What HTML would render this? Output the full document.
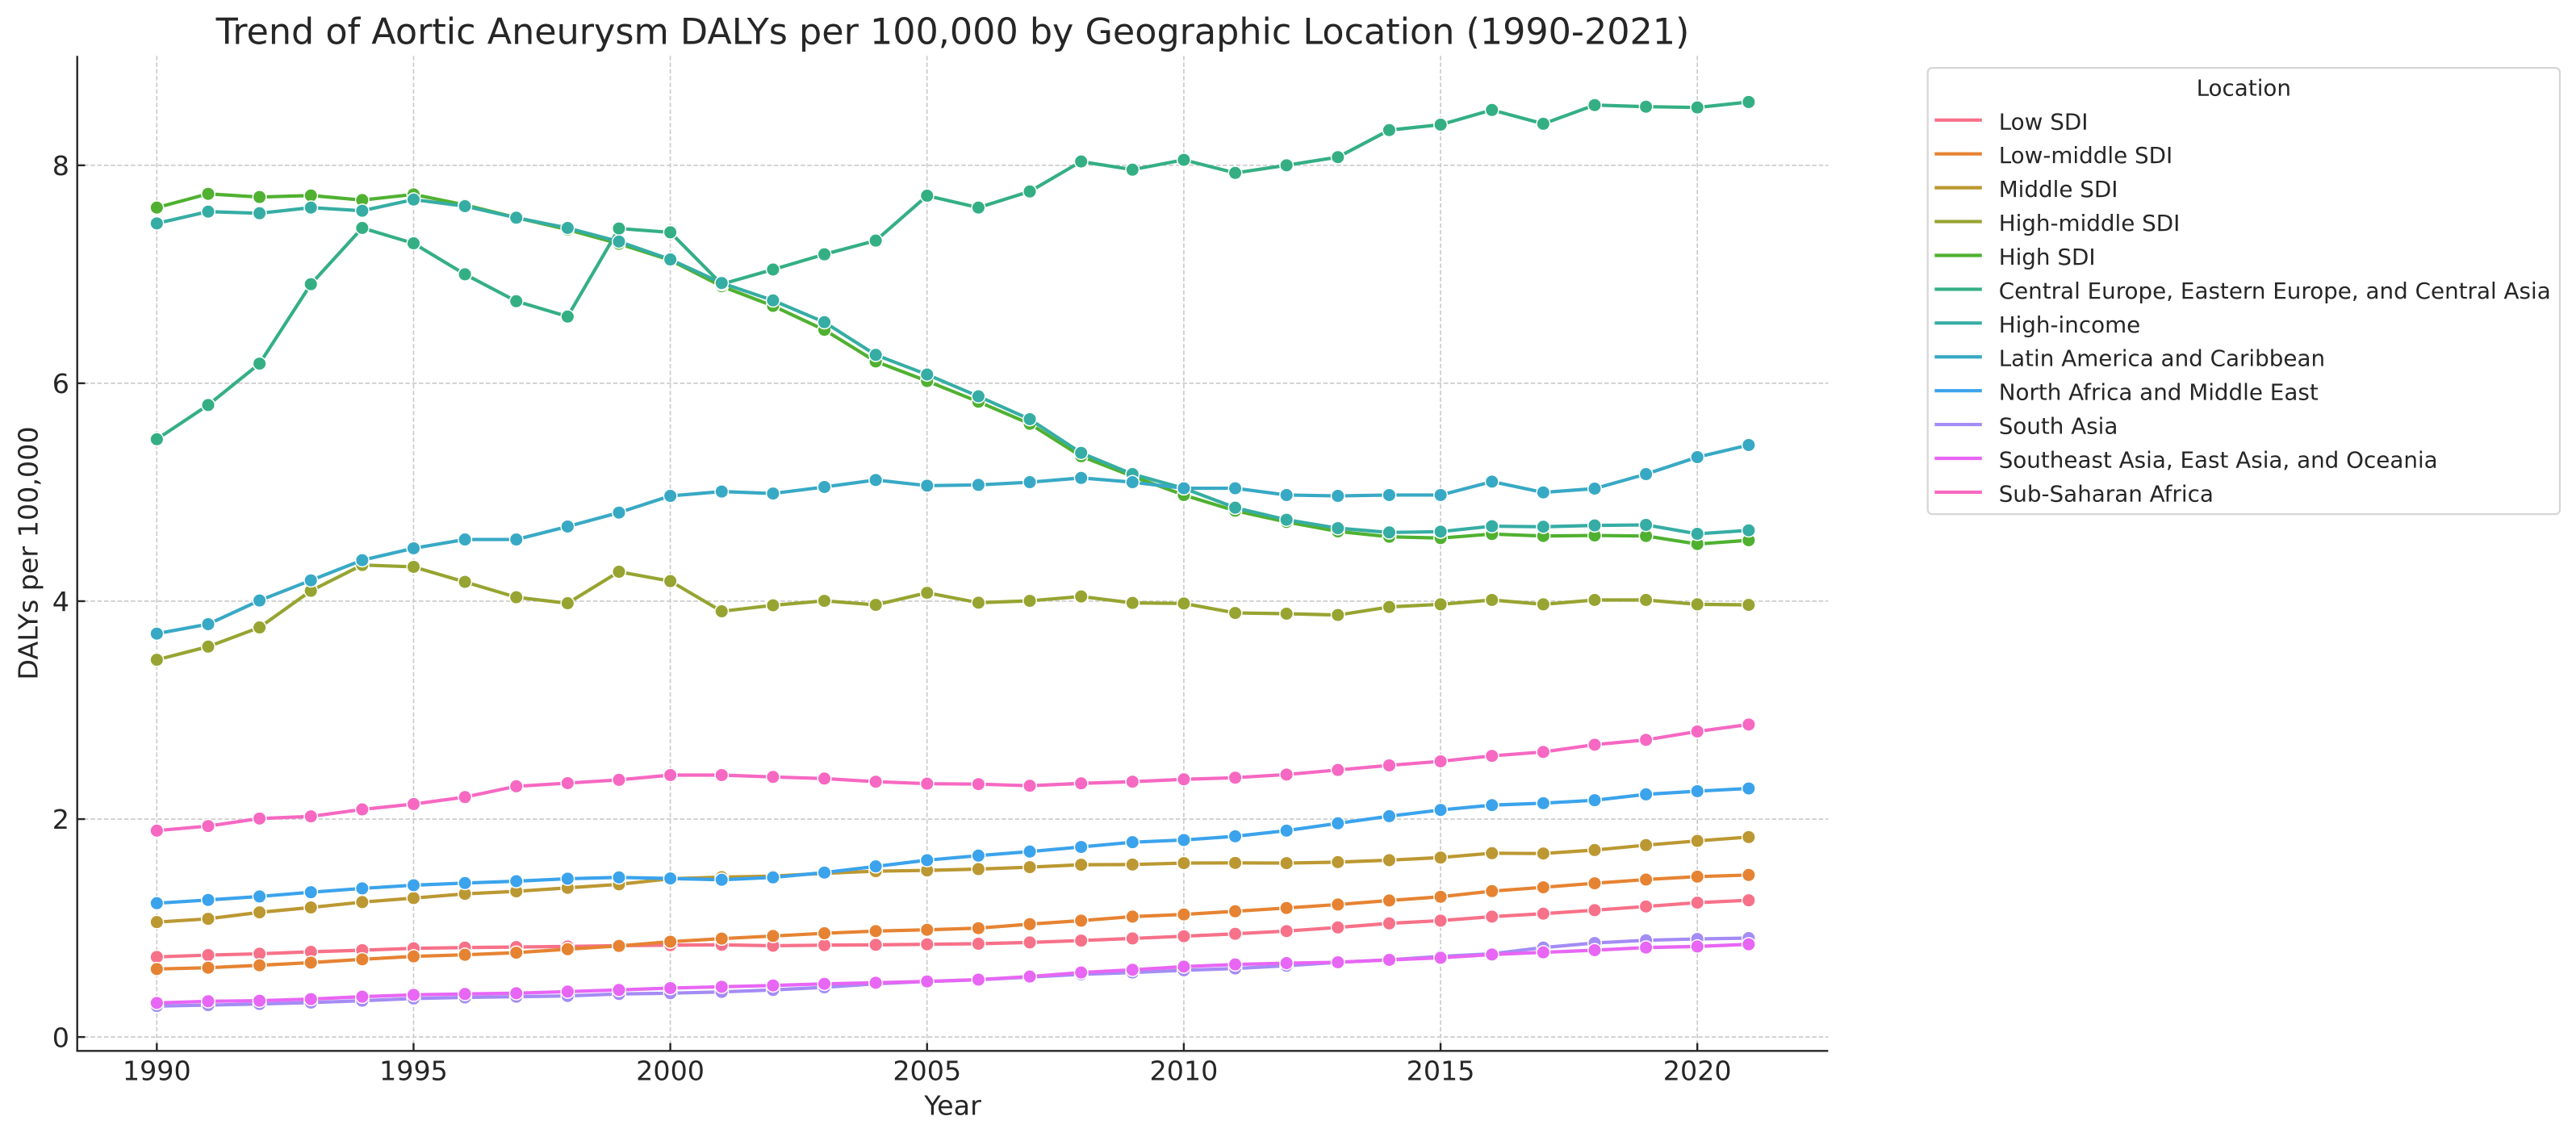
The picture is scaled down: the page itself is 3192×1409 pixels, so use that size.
<!DOCTYPE html>
<html>
<head>
<meta charset="utf-8">
<style>
html,body{margin:0;padding:0;background:#fff;}
svg{display:block;}
text{font-family:"DejaVu Sans","Liberation Sans",sans-serif;fill:#262626;}
.ln{fill:none;stroke-width:4.17;stroke-linejoin:round;stroke-linecap:round;}
.mw{fill:none;stroke:#fff;stroke-width:18;stroke-linecap:round;}
.mc{fill:none;stroke-width:15;stroke-linecap:round;}
.grid line{stroke:#c9c9c9;stroke-width:1.6;stroke-dasharray:5.5 2.8;}
.tk{font-size:33.33px;}
.lg{font-size:27.78px;}
</style>
</head>
<body>
<svg width="3192" height="1409" viewBox="0 0 3192 1409" xmlns="http://www.w3.org/2000/svg">
<rect x="0" y="0" width="3192" height="1409" fill="#fff"/>

<!-- grid -->
<g class="grid">
<line x1="194.3" y1="69.2" x2="194.3" y2="1302.3"/>
<line x1="512.45" y1="69.2" x2="512.45" y2="1302.3"/>
<line x1="830.6" y1="69.2" x2="830.6" y2="1302.3"/>
<line x1="1148.75" y1="69.2" x2="1148.75" y2="1302.3"/>
<line x1="1466.9" y1="69.2" x2="1466.9" y2="1302.3"/>
<line x1="1785.05" y1="69.2" x2="1785.05" y2="1302.3"/>
<line x1="2103.2" y1="69.2" x2="2103.2" y2="1302.3"/>
<line x1="95.7" y1="1285.1" x2="2265.4" y2="1285.1"/>
<line x1="95.7" y1="1015.04" x2="2265.4" y2="1015.04"/>
<line x1="95.7" y1="744.98" x2="2265.4" y2="744.98"/>
<line x1="95.7" y1="474.92" x2="2265.4" y2="474.92"/>
<line x1="95.7" y1="204.86" x2="2265.4" y2="204.86"/>
</g>

<!-- data -->
<g transform="translate(194.3,1285.1) scale(63.63,-135.03)">
<!-- Low SDI -->
<g stroke="#f77189">
<polyline class="ln" vector-effect="non-scaling-stroke" points="0,.735 1,.752 2,.764 3,.782 4,.797 5,.814 6,.821 7,.826 8,.831 9,.838 10,.843 11,.846 12,.838 13,.843 14,.846 15,.851 16,.856 17,.868 18,.885 19,.905 20,.925 21,.947 22,.972 23,1.006 24,1.043 25,1.068 26,1.105 27,1.132 28,1.164 29,1.198 30,1.233 31,1.255"/>
<path class="mw" vector-effect="non-scaling-stroke" d="M0,.735h.001M1,.752h.001M2,.764h.001M3,.782h.001M4,.797h.001M5,.814h.001M6,.821h.001M7,.826h.001M8,.831h.001M9,.838h.001M10,.843h.001M11,.846h.001M12,.838h.001M13,.843h.001M14,.846h.001M15,.851h.001M16,.856h.001M17,.868h.001M18,.885h.001M19,.905h.001M20,.925h.001M21,.947h.001M22,.972h.001M23,1.006h.001M24,1.043h.001M25,1.068h.001M26,1.105h.001M27,1.132h.001M28,1.164h.001M29,1.198h.001M30,1.233h.001M31,1.255h.001"/>
<path class="mc" vector-effect="non-scaling-stroke" d="M0,.735h.001M1,.752h.001M2,.764h.001M3,.782h.001M4,.797h.001M5,.814h.001M6,.821h.001M7,.826h.001M8,.831h.001M9,.838h.001M10,.843h.001M11,.846h.001M12,.838h.001M13,.843h.001M14,.846h.001M15,.851h.001M16,.856h.001M17,.868h.001M18,.885h.001M19,.905h.001M20,.925h.001M21,.947h.001M22,.972h.001M23,1.006h.001M24,1.043h.001M25,1.068h.001M26,1.105h.001M27,1.132h.001M28,1.164h.001M29,1.198h.001M30,1.233h.001M31,1.255h.001"/>
</g>
<!-- Low-middle SDI -->
<g stroke="#e68332">
<polyline class="ln" vector-effect="non-scaling-stroke" points="0,.624 1,.636 2,.658 3,.683 4,.713 5,.74 6,.755 7,.774 8,.806 9,.836 10,.875 11,.903 12,.927 13,.952 14,.972 15,.984 16,.999 17,1.036 18,1.068 19,1.105 20,1.125 21,1.154 22,1.184 23,1.216 24,1.253 25,1.287 26,1.339 27,1.374 28,1.411 29,1.445 30,1.472 31,1.487"/>
<path class="mw" vector-effect="non-scaling-stroke" d="M0,.624h.001M1,.636h.001M2,.658h.001M3,.683h.001M4,.713h.001M5,.74h.001M6,.755h.001M7,.774h.001M8,.806h.001M9,.836h.001M10,.875h.001M11,.903h.001M12,.927h.001M13,.952h.001M14,.972h.001M15,.984h.001M16,.999h.001M17,1.036h.001M18,1.068h.001M19,1.105h.001M20,1.125h.001M21,1.154h.001M22,1.184h.001M23,1.216h.001M24,1.253h.001M25,1.287h.001M26,1.339h.001M27,1.374h.001M28,1.411h.001M29,1.445h.001M30,1.472h.001M31,1.487h.001"/>
<path class="mc" vector-effect="non-scaling-stroke" d="M0,.624h.001M1,.636h.001M2,.658h.001M3,.683h.001M4,.713h.001M5,.74h.001M6,.755h.001M7,.774h.001M8,.806h.001M9,.836h.001M10,.875h.001M11,.903h.001M12,.927h.001M13,.952h.001M14,.972h.001M15,.984h.001M16,.999h.001M17,1.036h.001M18,1.068h.001M19,1.105h.001M20,1.125h.001M21,1.154h.001M22,1.184h.001M23,1.216h.001M24,1.253h.001M25,1.287h.001M26,1.339h.001M27,1.374h.001M28,1.411h.001M29,1.445h.001M30,1.472h.001M31,1.487h.001"/>
</g>
<!-- Middle SDI -->
<g stroke="#bb9832">
<polyline class="ln" vector-effect="non-scaling-stroke" points="0,1.055 1,1.085 2,1.144 3,1.189 4,1.238 5,1.275 6,1.314 7,1.337 8,1.369 9,1.401 10,1.453 11,1.467 12,1.477 13,1.502 14,1.522 15,1.529 16,1.541 17,1.559 18,1.581 19,1.583 20,1.596 21,1.598 22,1.596 23,1.605 24,1.623 25,1.647 26,1.687 27,1.684 28,1.716 29,1.761 30,1.8 31,1.835"/>
<path class="mw" vector-effect="non-scaling-stroke" d="M0,1.055h.001M1,1.085h.001M2,1.144h.001M3,1.189h.001M4,1.238h.001M5,1.275h.001M6,1.314h.001M7,1.337h.001M8,1.369h.001M9,1.401h.001M10,1.453h.001M11,1.467h.001M12,1.477h.001M13,1.502h.001M14,1.522h.001M15,1.529h.001M16,1.541h.001M17,1.559h.001M18,1.581h.001M19,1.583h.001M20,1.596h.001M21,1.598h.001M22,1.596h.001M23,1.605h.001M24,1.623h.001M25,1.647h.001M26,1.687h.001M27,1.684h.001M28,1.716h.001M29,1.761h.001M30,1.8h.001M31,1.835h.001"/>
<path class="mc" vector-effect="non-scaling-stroke" d="M0,1.055h.001M1,1.085h.001M2,1.144h.001M3,1.189h.001M4,1.238h.001M5,1.275h.001M6,1.314h.001M7,1.337h.001M8,1.369h.001M9,1.401h.001M10,1.453h.001M11,1.467h.001M12,1.477h.001M13,1.502h.001M14,1.522h.001M15,1.529h.001M16,1.541h.001M17,1.559h.001M18,1.581h.001M19,1.583h.001M20,1.596h.001M21,1.598h.001M22,1.596h.001M23,1.605h.001M24,1.623h.001M25,1.647h.001M26,1.687h.001M27,1.684h.001M28,1.716h.001M29,1.761h.001M30,1.8h.001M31,1.835h.001"/>
</g>
<!-- High-middle SDI -->
<g stroke="#97a431">
<polyline class="ln" vector-effect="non-scaling-stroke" points="0,3.462 1,3.583 2,3.759 3,4.095 4,4.332 5,4.315 6,4.177 7,4.036 8,3.981 9,4.27 10,4.184 11,3.907 12,3.962 13,4.003 14,3.966 15,4.077 16,3.986 17,4.003 18,4.043 19,3.984 20,3.979 21,3.892 22,3.885 23,3.873 24,3.947 25,3.971 26,4.011 27,3.971 28,4.011 29,4.011 30,3.971 31,3.966"/>
<path class="mw" vector-effect="non-scaling-stroke" d="M0,3.462h.001M1,3.583h.001M2,3.759h.001M3,4.095h.001M4,4.332h.001M5,4.315h.001M6,4.177h.001M7,4.036h.001M8,3.981h.001M9,4.27h.001M10,4.184h.001M11,3.907h.001M12,3.962h.001M13,4.003h.001M14,3.966h.001M15,4.077h.001M16,3.986h.001M17,4.003h.001M18,4.043h.001M19,3.984h.001M20,3.979h.001M21,3.892h.001M22,3.885h.001M23,3.873h.001M24,3.947h.001M25,3.971h.001M26,4.011h.001M27,3.971h.001M28,4.011h.001M29,4.011h.001M30,3.971h.001M31,3.966h.001"/>
<path class="mc" vector-effect="non-scaling-stroke" d="M0,3.462h.001M1,3.583h.001M2,3.759h.001M3,4.095h.001M4,4.332h.001M5,4.315h.001M6,4.177h.001M7,4.036h.001M8,3.981h.001M9,4.27h.001M10,4.184h.001M11,3.907h.001M12,3.962h.001M13,4.003h.001M14,3.966h.001M15,4.077h.001M16,3.986h.001M17,4.003h.001M18,4.043h.001M19,3.984h.001M20,3.979h.001M21,3.892h.001M22,3.885h.001M23,3.873h.001M24,3.947h.001M25,3.971h.001M26,4.011h.001M27,3.971h.001M28,4.011h.001M29,4.011h.001M30,3.971h.001M31,3.966h.001"/>
</g>
<!-- High SDI -->
<g stroke="#50b131">
<polyline class="ln" vector-effect="non-scaling-stroke" points="0,7.612 1,7.738 2,7.709 3,7.723 4,7.681 5,7.733 6,7.637 7,7.52 8,7.41 9,7.28 10,7.13 11,6.89 12,6.71 13,6.49 14,6.2 15,6.02 16,5.83 17,5.628 18,5.33 19,5.146 20,4.974 21,4.83 22,4.727 23,4.64 24,4.591 25,4.579 26,4.616 27,4.598 28,4.603 29,4.598 30,4.524 31,4.559"/>
<path class="mw" vector-effect="non-scaling-stroke" d="M0,7.612h.001M1,7.738h.001M2,7.709h.001M3,7.723h.001M4,7.681h.001M5,7.733h.001M6,7.637h.001M7,7.52h.001M8,7.41h.001M9,7.28h.001M10,7.13h.001M11,6.89h.001M12,6.71h.001M13,6.49h.001M14,6.2h.001M15,6.02h.001M16,5.83h.001M17,5.628h.001M18,5.33h.001M19,5.146h.001M20,4.974h.001M21,4.83h.001M22,4.727h.001M23,4.64h.001M24,4.591h.001M25,4.579h.001M26,4.616h.001M27,4.598h.001M28,4.603h.001M29,4.598h.001M30,4.524h.001M31,4.559h.001"/>
<path class="mc" vector-effect="non-scaling-stroke" d="M0,7.612h.001M1,7.738h.001M2,7.709h.001M3,7.723h.001M4,7.681h.001M5,7.733h.001M6,7.637h.001M7,7.52h.001M8,7.41h.001M9,7.28h.001M10,7.13h.001M11,6.89h.001M12,6.71h.001M13,6.49h.001M14,6.2h.001M15,6.02h.001M16,5.83h.001M17,5.628h.001M18,5.33h.001M19,5.146h.001M20,4.974h.001M21,4.83h.001M22,4.727h.001M23,4.64h.001M24,4.591h.001M25,4.579h.001M26,4.616h.001M27,4.598h.001M28,4.603h.001M29,4.598h.001M30,4.524h.001M31,4.559h.001"/>
</g>
<!-- Central Europe, Eastern Europe, and Central Asia -->
<g stroke="#34af84">
<polyline class="ln" vector-effect="non-scaling-stroke" points="0,5.486 1,5.8 2,6.18 3,6.909 4,7.425 5,7.284 6,7.0 7,6.753 8,6.612 9,7.42 10,7.385 11,6.909 12,7.044 13,7.183 14,7.309 15,7.721 16,7.612 17,7.76 18,8.035 19,7.96 20,8.05 21,7.93 22,8.0 23,8.075 24,8.323 25,8.373 26,8.508 27,8.381 28,8.553 29,8.538 30,8.531 31,8.581"/>
<path class="mw" vector-effect="non-scaling-stroke" d="M0,5.486h.001M1,5.8h.001M2,6.18h.001M3,6.909h.001M4,7.425h.001M5,7.284h.001M6,7.0h.001M7,6.753h.001M8,6.612h.001M9,7.42h.001M10,7.385h.001M11,6.909h.001M12,7.044h.001M13,7.183h.001M14,7.309h.001M15,7.721h.001M16,7.612h.001M17,7.76h.001M18,8.035h.001M19,7.96h.001M20,8.05h.001M21,7.93h.001M22,8.0h.001M23,8.075h.001M24,8.323h.001M25,8.373h.001M26,8.508h.001M27,8.381h.001M28,8.553h.001M29,8.538h.001M30,8.531h.001M31,8.581h.001"/>
<path class="mc" vector-effect="non-scaling-stroke" d="M0,5.486h.001M1,5.8h.001M2,6.18h.001M3,6.909h.001M4,7.425h.001M5,7.284h.001M6,7.0h.001M7,6.753h.001M8,6.612h.001M9,7.42h.001M10,7.385h.001M11,6.909h.001M12,7.044h.001M13,7.183h.001M14,7.309h.001M15,7.721h.001M16,7.612h.001M17,7.76h.001M18,8.035h.001M19,7.96h.001M20,8.05h.001M21,7.93h.001M22,8.0h.001M23,8.075h.001M24,8.323h.001M25,8.373h.001M26,8.508h.001M27,8.381h.001M28,8.553h.001M29,8.538h.001M30,8.531h.001M31,8.581h.001"/>
</g>
<!-- High-income -->
<g stroke="#36ada4">
<polyline class="ln" vector-effect="non-scaling-stroke" points="0,7.467 1,7.575 2,7.56 3,7.612 4,7.583 5,7.686 6,7.625 7,7.519 8,7.425 9,7.3 10,7.136 11,6.92 12,6.76 13,6.56 14,6.26 15,6.08 16,5.88 17,5.67 18,5.361 19,5.166 20,5.036 21,4.858 22,4.747 23,4.67 24,4.631 25,4.638 26,4.688 27,4.683 28,4.695 29,4.7 30,4.618 31,4.65"/>
<path class="mw" vector-effect="non-scaling-stroke" d="M0,7.467h.001M1,7.575h.001M2,7.56h.001M3,7.612h.001M4,7.583h.001M5,7.686h.001M6,7.625h.001M7,7.519h.001M8,7.425h.001M9,7.3h.001M10,7.136h.001M11,6.92h.001M12,6.76h.001M13,6.56h.001M14,6.26h.001M15,6.08h.001M16,5.88h.001M17,5.67h.001M18,5.361h.001M19,5.166h.001M20,5.036h.001M21,4.858h.001M22,4.747h.001M23,4.67h.001M24,4.631h.001M25,4.638h.001M26,4.688h.001M27,4.683h.001M28,4.695h.001M29,4.7h.001M30,4.618h.001M31,4.65h.001"/>
<path class="mc" vector-effect="non-scaling-stroke" d="M0,7.467h.001M1,7.575h.001M2,7.56h.001M3,7.612h.001M4,7.583h.001M5,7.686h.001M6,7.625h.001M7,7.519h.001M8,7.425h.001M9,7.3h.001M10,7.136h.001M11,6.92h.001M12,6.76h.001M13,6.56h.001M14,6.26h.001M15,6.08h.001M16,5.88h.001M17,5.67h.001M18,5.361h.001M19,5.166h.001M20,5.036h.001M21,4.858h.001M22,4.747h.001M23,4.67h.001M24,4.631h.001M25,4.638h.001M26,4.688h.001M27,4.683h.001M28,4.695h.001M29,4.7h.001M30,4.618h.001M31,4.65h.001"/>
</g>
<!-- Latin America and Caribbean -->
<g stroke="#38a9c5">
<polyline class="ln" vector-effect="non-scaling-stroke" points="0,3.702 1,3.789 2,4.006 3,4.191 4,4.376 5,4.485 6,4.566 7,4.566 8,4.685 9,4.813 10,4.966 11,5.006 12,4.988 13,5.048 14,5.112 15,5.06 16,5.067 17,5.092 18,5.131 19,5.092 20,5.036 21,5.036 22,4.974 23,4.966 24,4.974 25,4.974 26,5.097 27,4.998 28,5.033 29,5.166 30,5.322 31,5.433"/>
<path class="mw" vector-effect="non-scaling-stroke" d="M0,3.702h.001M1,3.789h.001M2,4.006h.001M3,4.191h.001M4,4.376h.001M5,4.485h.001M6,4.566h.001M7,4.566h.001M8,4.685h.001M9,4.813h.001M10,4.966h.001M11,5.006h.001M12,4.988h.001M13,5.048h.001M14,5.112h.001M15,5.06h.001M16,5.067h.001M17,5.092h.001M18,5.131h.001M19,5.092h.001M20,5.036h.001M21,5.036h.001M22,4.974h.001M23,4.966h.001M24,4.974h.001M25,4.974h.001M26,5.097h.001M27,4.998h.001M28,5.033h.001M29,5.166h.001M30,5.322h.001M31,5.433h.001"/>
<path class="mc" vector-effect="non-scaling-stroke" d="M0,3.702h.001M1,3.789h.001M2,4.006h.001M3,4.191h.001M4,4.376h.001M5,4.485h.001M6,4.566h.001M7,4.566h.001M8,4.685h.001M9,4.813h.001M10,4.966h.001M11,5.006h.001M12,4.988h.001M13,5.048h.001M14,5.112h.001M15,5.06h.001M16,5.067h.001M17,5.092h.001M18,5.131h.001M19,5.092h.001M20,5.036h.001M21,5.036h.001M22,4.974h.001M23,4.966h.001M24,4.974h.001M25,4.974h.001M26,5.097h.001M27,4.998h.001M28,5.033h.001M29,5.166h.001M30,5.322h.001M31,5.433h.001"/>
</g>
<!-- North Africa and Middle East -->
<g stroke="#3ba3ec">
<polyline class="ln" vector-effect="non-scaling-stroke" points="0,1.228 1,1.258 2,1.29 3,1.329 4,1.364 5,1.393 6,1.413 7,1.43 8,1.453 9,1.465 10,1.455 11,1.443 12,1.465 13,1.509 14,1.566 15,1.623 16,1.665 17,1.702 18,1.744 19,1.788 20,1.808 21,1.842 22,1.894 23,1.961 24,2.027 25,2.084 26,2.128 27,2.146 28,2.173 29,2.227 30,2.256 31,2.281"/>
<path class="mw" vector-effect="non-scaling-stroke" d="M0,1.228h.001M1,1.258h.001M2,1.29h.001M3,1.329h.001M4,1.364h.001M5,1.393h.001M6,1.413h.001M7,1.43h.001M8,1.453h.001M9,1.465h.001M10,1.455h.001M11,1.443h.001M12,1.465h.001M13,1.509h.001M14,1.566h.001M15,1.623h.001M16,1.665h.001M17,1.702h.001M18,1.744h.001M19,1.788h.001M20,1.808h.001M21,1.842h.001M22,1.894h.001M23,1.961h.001M24,2.027h.001M25,2.084h.001M26,2.128h.001M27,2.146h.001M28,2.173h.001M29,2.227h.001M30,2.256h.001M31,2.281h.001"/>
<path class="mc" vector-effect="non-scaling-stroke" d="M0,1.228h.001M1,1.258h.001M2,1.29h.001M3,1.329h.001M4,1.364h.001M5,1.393h.001M6,1.413h.001M7,1.43h.001M8,1.453h.001M9,1.465h.001M10,1.455h.001M11,1.443h.001M12,1.465h.001M13,1.509h.001M14,1.566h.001M15,1.623h.001M16,1.665h.001M17,1.702h.001M18,1.744h.001M19,1.788h.001M20,1.808h.001M21,1.842h.001M22,1.894h.001M23,1.961h.001M24,2.027h.001M25,2.084h.001M26,2.128h.001M27,2.146h.001M28,2.173h.001M29,2.227h.001M30,2.256h.001M31,2.281h.001"/>
</g>
<!-- South Asia -->
<g stroke="#a48cf4">
<polyline class="ln" vector-effect="non-scaling-stroke" points="0,.284 1,.293 2,.303 3,.316 4,.333 5,.353 6,.363 7,.37 8,.377 9,.395 10,.402 11,.414 12,.432 13,.456 14,.488 15,.51 16,.525 17,.55 18,.575 19,.592 20,.612 21,.629 22,.654 23,.686 24,.708 25,.74 26,.764 27,.821 28,.863 29,.888 30,.9 31,.908"/>
<path class="mw" vector-effect="non-scaling-stroke" d="M0,.284h.001M1,.293h.001M2,.303h.001M3,.316h.001M4,.333h.001M5,.353h.001M6,.363h.001M7,.37h.001M8,.377h.001M9,.395h.001M10,.402h.001M11,.414h.001M12,.432h.001M13,.456h.001M14,.488h.001M15,.51h.001M16,.525h.001M17,.55h.001M18,.575h.001M19,.592h.001M20,.612h.001M21,.629h.001M22,.654h.001M23,.686h.001M24,.708h.001M25,.74h.001M26,.764h.001M27,.821h.001M28,.863h.001M29,.888h.001M30,.9h.001M31,.908h.001"/>
<path class="mc" vector-effect="non-scaling-stroke" d="M0,.284h.001M1,.293h.001M2,.303h.001M3,.316h.001M4,.333h.001M5,.353h.001M6,.363h.001M7,.37h.001M8,.377h.001M9,.395h.001M10,.402h.001M11,.414h.001M12,.432h.001M13,.456h.001M14,.488h.001M15,.51h.001M16,.525h.001M17,.55h.001M18,.575h.001M19,.592h.001M20,.612h.001M21,.629h.001M22,.654h.001M23,.686h.001M24,.708h.001M25,.74h.001M26,.764h.001M27,.821h.001M28,.863h.001M29,.888h.001M30,.9h.001M31,.908h.001"/>
</g>
<!-- Southeast Asia, East Asia, and Oceania -->
<g stroke="#e866f4">
<polyline class="ln" vector-effect="non-scaling-stroke" points="0,.313 1,.328 2,.333 3,.348 4,.37 5,.387 6,.395 7,.402 8,.417 9,.432 10,.449 11,.461 12,.473 13,.488 14,.498 15,.51 16,.527 17,.555 18,.592 19,.617 20,.646 21,.666 22,.678 23,.686 24,.708 25,.727 26,.757 27,.777 28,.797 29,.821 30,.831 31,.851"/>
<path class="mw" vector-effect="non-scaling-stroke" d="M0,.313h.001M1,.328h.001M2,.333h.001M3,.348h.001M4,.37h.001M5,.387h.001M6,.395h.001M7,.402h.001M8,.417h.001M9,.432h.001M10,.449h.001M11,.461h.001M12,.473h.001M13,.488h.001M14,.498h.001M15,.51h.001M16,.527h.001M17,.555h.001M18,.592h.001M19,.617h.001M20,.646h.001M21,.666h.001M22,.678h.001M23,.686h.001M24,.708h.001M25,.727h.001M26,.757h.001M27,.777h.001M28,.797h.001M29,.821h.001M30,.831h.001M31,.851h.001"/>
<path class="mc" vector-effect="non-scaling-stroke" d="M0,.313h.001M1,.328h.001M2,.333h.001M3,.348h.001M4,.37h.001M5,.387h.001M6,.395h.001M7,.402h.001M8,.417h.001M9,.432h.001M10,.449h.001M11,.461h.001M12,.473h.001M13,.488h.001M14,.498h.001M15,.51h.001M16,.527h.001M17,.555h.001M18,.592h.001M19,.617h.001M20,.646h.001M21,.666h.001M22,.678h.001M23,.686h.001M24,.708h.001M25,.727h.001M26,.757h.001M27,.777h.001M28,.797h.001M29,.821h.001M30,.831h.001M31,.851h.001"/>
</g>
<!-- Sub-Saharan Africa -->
<g stroke="#f668c2">
<polyline class="ln" vector-effect="non-scaling-stroke" points="0,1.894 1,1.936 2,2.005 3,2.025 4,2.089 5,2.138 6,2.202 7,2.301 8,2.33 9,2.36 10,2.404 11,2.404 12,2.387 13,2.372 14,2.343 15,2.325 16,2.321 17,2.306 18,2.328 19,2.343 20,2.365 21,2.38 22,2.409 23,2.451 24,2.493 25,2.53 26,2.58 27,2.616 28,2.683 29,2.727 30,2.804 31,2.868"/>
<path class="mw" vector-effect="non-scaling-stroke" d="M0,1.894h.001M1,1.936h.001M2,2.005h.001M3,2.025h.001M4,2.089h.001M5,2.138h.001M6,2.202h.001M7,2.301h.001M8,2.33h.001M9,2.36h.001M10,2.404h.001M11,2.404h.001M12,2.387h.001M13,2.372h.001M14,2.343h.001M15,2.325h.001M16,2.321h.001M17,2.306h.001M18,2.328h.001M19,2.343h.001M20,2.365h.001M21,2.38h.001M22,2.409h.001M23,2.451h.001M24,2.493h.001M25,2.53h.001M26,2.58h.001M27,2.616h.001M28,2.683h.001M29,2.727h.001M30,2.804h.001M31,2.868h.001"/>
<path class="mc" vector-effect="non-scaling-stroke" d="M0,1.894h.001M1,1.936h.001M2,2.005h.001M3,2.025h.001M4,2.089h.001M5,2.138h.001M6,2.202h.001M7,2.301h.001M8,2.33h.001M9,2.36h.001M10,2.404h.001M11,2.404h.001M12,2.387h.001M13,2.372h.001M14,2.343h.001M15,2.325h.001M16,2.321h.001M17,2.306h.001M18,2.328h.001M19,2.343h.001M20,2.365h.001M21,2.38h.001M22,2.409h.001M23,2.451h.001M24,2.493h.001M25,2.53h.001M26,2.58h.001M27,2.616h.001M28,2.683h.001M29,2.727h.001M30,2.804h.001M31,2.868h.001"/>
</g>
</g>

<!-- spines -->
<g stroke="#262626" stroke-width="2.4" fill="none">
<line x1="95.7" y1="69.2" x2="95.7" y2="1303.5"/>
<line x1="94.5" y1="1302.3" x2="2265.4" y2="1302.3"/>
<line x1="95.7" y1="1285.1" x2="105.4" y2="1285.1"/>
<line x1="95.7" y1="1015.04" x2="105.4" y2="1015.04"/>
<line x1="95.7" y1="744.98" x2="105.4" y2="744.98"/>
<line x1="95.7" y1="474.92" x2="105.4" y2="474.92"/>
<line x1="95.7" y1="204.86" x2="105.4" y2="204.86"/>
<line x1="194.3" y1="1302.3" x2="194.3" y2="1292.6"/>
<line x1="512.45" y1="1302.3" x2="512.45" y2="1292.6"/>
<line x1="830.6" y1="1302.3" x2="830.6" y2="1292.6"/>
<line x1="1148.75" y1="1302.3" x2="1148.75" y2="1292.6"/>
<line x1="1466.9" y1="1302.3" x2="1466.9" y2="1292.6"/>
<line x1="1785.05" y1="1302.3" x2="1785.05" y2="1292.6"/>
<line x1="2103.2" y1="1302.3" x2="2103.2" y2="1292.6"/>
</g>

<!-- tick labels -->
<g class="tk" text-anchor="end">
<text x="86" y="1297.3">0</text>
<text x="86" y="1027.2">2</text>
<text x="86" y="757.2">4</text>
<text x="86" y="487.1">6</text>
<text x="86" y="217.1">8</text>
</g>
<g class="tk" text-anchor="middle">
<text x="194.3" y="1338.3">1990</text>
<text x="512.45" y="1338.3">1995</text>
<text x="830.6" y="1338.3">2000</text>
<text x="1148.75" y="1338.3">2005</text>
<text x="1466.9" y="1338.3">2010</text>
<text x="1785.05" y="1338.3">2015</text>
<text x="2103.2" y="1338.3">2020</text>
</g>

<!-- axis labels -->
<text class="tk" x="1180.5" y="1381.7" text-anchor="middle">Year</text>
<text class="tk" transform="translate(46.3,685.5) rotate(-90)" x="0" y="0" text-anchor="middle">DALYs per 100,000</text>

<!-- title -->
<text x="1180.5" y="54.4" text-anchor="middle" style="font-size:44.44px;">Trend of Aortic Aneurysm DALYs per 100,000 by Geographic Location (1990-2021)</text>

<!-- legend -->
<rect x="2388.7" y="84.1" width="783.3" height="553" rx="5.5" ry="5.5" fill="#fff" stroke="#d6d6d6" stroke-width="2.2"/>
<text class="lg" x="2780.3" y="118.6" text-anchor="middle">Location</text>
<g stroke-width="4.17" stroke-linecap="butt">
<line x1="2397.3" y1="148.8" x2="2455.8" y2="148.8" stroke="#f77189"/>
<line x1="2397.3" y1="190.72" x2="2455.8" y2="190.72" stroke="#e68332"/>
<line x1="2397.3" y1="232.64" x2="2455.8" y2="232.64" stroke="#bb9832"/>
<line x1="2397.3" y1="274.56" x2="2455.8" y2="274.56" stroke="#97a431"/>
<line x1="2397.3" y1="316.48" x2="2455.8" y2="316.48" stroke="#50b131"/>
<line x1="2397.3" y1="358.4" x2="2455.8" y2="358.4" stroke="#34af84"/>
<line x1="2397.3" y1="400.32" x2="2455.8" y2="400.32" stroke="#36ada4"/>
<line x1="2397.3" y1="442.24" x2="2455.8" y2="442.24" stroke="#38a9c5"/>
<line x1="2397.3" y1="484.16" x2="2455.8" y2="484.16" stroke="#3ba3ec"/>
<line x1="2397.3" y1="526.08" x2="2455.8" y2="526.08" stroke="#a48cf4"/>
<line x1="2397.3" y1="568" x2="2455.8" y2="568" stroke="#e866f4"/>
<line x1="2397.3" y1="609.92" x2="2455.8" y2="609.92" stroke="#f668c2"/>
</g>
<g class="lg">
<text x="2476.7" y="160.3">Low SDI</text>
<text x="2476.7" y="202.22">Low-middle SDI</text>
<text x="2476.7" y="244.14">Middle SDI</text>
<text x="2476.7" y="286.06">High-middle SDI</text>
<text x="2476.7" y="327.98">High SDI</text>
<text x="2476.7" y="369.9">Central Europe, Eastern Europe, and Central Asia</text>
<text x="2476.7" y="411.82">High-income</text>
<text x="2476.7" y="453.74">Latin America and Caribbean</text>
<text x="2476.7" y="495.66">North Africa and Middle East</text>
<text x="2476.7" y="537.58">South Asia</text>
<text x="2476.7" y="579.5">Southeast Asia, East Asia, and Oceania</text>
<text x="2476.7" y="621.42">Sub-Saharan Africa</text>
</g>
</svg>
</body>
</html>
